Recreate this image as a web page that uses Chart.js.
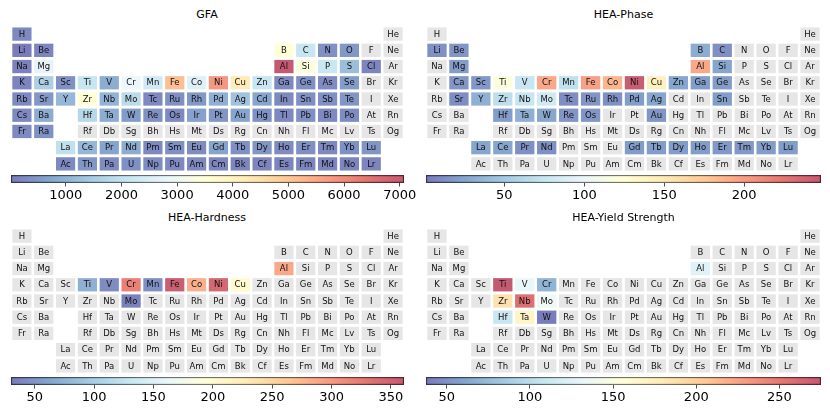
<!DOCTYPE html>
<html>
<head>
<meta charset="utf-8">
<script src="https://cdn.jsdelivr.net/npm/chart.js@4.4.0/dist/chart.umd.min.js"></script>
<style>
  body { margin: 0; background: #fff; width: 830px; height: 415px; overflow: hidden; position: relative; font-family: "DejaVu Sans", sans-serif; }
  canvas { position: absolute; }
  .title { position: absolute; font-size: 11px; line-height: 14px; text-align: center; color: #000; }
</style>
</head>
<body>
<script>
// all 118 elements, in order of atomic number
const symbols = ['H','He','Li','Be','B','C','N','O','F','Ne','Na','Mg','Al','Si','P','S','Cl','Ar',
  'K','Ca','Sc','Ti','V','Cr','Mn','Fe','Co','Ni','Cu','Zn','Ga','Ge','As','Se','Br','Kr',
  'Rb','Sr','Y','Zr','Nb','Mo','Tc','Ru','Rh','Pd','Ag','Cd','In','Sn','Sb','Te','I','Xe',
  'Cs','Ba','La','Ce','Pr','Nd','Pm','Sm','Eu','Gd','Tb','Dy','Ho','Er','Tm','Yb','Lu',
  'Hf','Ta','W','Re','Os','Ir','Pt','Au','Hg','Tl','Pb','Bi','Po','At','Rn',
  'Fr','Ra','Ac','Th','Pa','U','Np','Pu','Am','Cm','Bk','Cf','Es','Fm','Md','No','Lr',
  'Rf','Db','Sg','Bh','Hs','Mt','Ds','Rg','Cn','Nh','Fl','Mc','Lv','Ts','Og'];

// GFA
const gfaEls = ['H','Li','Be','B','C','N','O','Na','Mg','Al','Si','P','S','Cl',
  'K','Ca','Sc','Ti','V','Cr','Mn','Fe','Co','Ni','Cu','Zn','Ga','Ge','As','Se',
  'Rb','Sr','Y','Zr','Nb','Mo','Tc','Ru','Rh','Pd','Ag','Cd','In','Sn','Sb','Te',
  'Cs','Ba','Hf','Ta','W','Re','Os','Ir','Pt','Au','Hg','Tl','Pb','Bi','Po','Fr','Ra',
  'La','Ce','Pr','Nd','Pm','Sm','Eu','Gd','Tb','Dy','Ho','Er','Tm','Yb','Lu',
  'Ac','Th','Pa','U','Np','Pu','Am','Cm','Bk','Cf','Es','Fm','Md','No','Lr'];
const gfaVals = [230,15,160,3550,2130,370,510,90,2700,7077,3400,2150,1215,160,
  160,1570,370,2130,860,2840,2270,5170,2560,5805,4250,2130,230,370,300,580,
  230,510,1075,3550,1000,1850,230,370,510,930,1290,720,230,370,370,440,
  230,860,1780,860,580,370,230,650,440,720,370,230,370,230,300,230,370,
  1990,1075,720,860,230,370,300,720,370,440,300,370,230,370,440,
  230,440,300,370,300,230,230,160,160,160,160,160,160,160,160];
const gfaRange = [15, 7077];
const gfaTicks = [1000, 2000, 3000, 4000, 5000, 6000, 7000];

// HEA-Phase
const phaseEls = ['Li','Be','B','C','Mg','Al','Si','Ca','Sc','Ti','V','Cr','Mn','Fe','Co','Ni','Cu','Zn','Ga','Ge',
  'Sr','Y','Zr','Nb','Mo','Tc','Ru','Rh','Pd','Ag','Sn','Hf','Ta','W','Re','Os','Au',
  'La','Ce','Pr','Nd','Gd','Tb','Dy','Ho','Er','Tm','Yb','Lu'];
const phaseVals = [13,16,31,13,21,194,26,16,18,120,75,194,70,199,186,245,142,26,21,21,
  11,33,68,75,80,11,16,13,21,26,21,21,33,26,16,16,16,
  26,26,13,13,21,21,21,21,18,18,21,21];
const phaseRange = [1, 248];
const phaseTicks = [50, 100, 150, 200];

// HEA-Hardness
const hardEls = ['Al','Ti','V','Cr','Mn','Fe','Co','Ni','Cu','Mo'];
const hardVals = [288,73,43,321,47,355,282,344,202,34];
const hardRange = [30, 361];
const hardTicks = [50, 100, 150, 200, 250, 300, 350];

// HEA-Yield Strength
const yieldEls = ['Al','Ti','V','Cr','Zr','Nb','Mo','Hf','Ta','W'];
const yieldVals = [125,275,132,71,187,258,137,109,168,38];
const yieldRange = [37.5, 275];
const yieldTicks = [50, 100, 150, 200, 250];

// RdYlBu_r, drawn with alpha like the original
const cmapStops = ['#313695','#4575b4','#74add1','#abd9e9','#e0f3f8','#ffffbf','#fee090','#fdae61','#f46d43','#d73027','#a50026'];
const ALPHA = 0.65;
const EMPTY = '#e6e6e6';

function hexRgb(h) {
  return [parseInt(h.slice(1, 3), 16), parseInt(h.slice(3, 5), 16), parseInt(h.slice(5, 7), 16)];
}
function cmap(t) {
  t = Math.max(0, Math.min(1, t));
  const p = t * 10;
  const i = Math.min(9, Math.floor(p));
  const f = p - i;
  const a = hexRgb(cmapStops[i]), b = hexRgb(cmapStops[i + 1]);
  const c = a.map((v, k) => Math.round(v + (b[k] - v) * f));
  return `rgba(${c[0]},${c[1]},${c[2]},${ALPHA})`;
}

// group / row of an element in the usual periodic table layout (La, Ac rows at 8, 9)
function place(z) {
  if (z === 1) return [1, 1];
  if (z === 2) return [18, 1];
  if (z <= 18) {
    const p = z <= 10 ? 2 : 3;
    const i = z - (p === 2 ? 3 : 11);
    return [i < 2 ? i + 1 : i + 11, p];
  }
  if (z <= 54) {
    const p = z <= 36 ? 4 : 5;
    return [z - (p === 4 ? 18 : 36), p];
  }
  const p = z <= 86 ? 6 : 7;
  const i = z - (p === 6 ? 54 : 86);
  if (i <= 2) return [i, p];
  if (i <= 17) return [i, p + 2];
  return [i - 14, p];
}

const symbolLabels = {
  id: 'symbolLabels',
  afterDatasetsDraw(chart) {
    const ctx = chart.ctx;
    const meta = chart.getDatasetMeta(0);
    const ds = chart.data.datasets[0];
    ctx.save();
    ctx.font = '8.5px "DejaVu Sans"';
    ctx.fillStyle = '#111';
    ctx.textAlign = 'center';
    ctx.textBaseline = 'middle';
    meta.data.forEach((bar, i) => {
      const c = bar.getCenterPoint();
      ctx.fillText(ds.data[i].s, c.x, c.y + 0.5);
    });
    ctx.restore();
  }
};

function addCanvas(left, top, w, h) {
  const cv = document.createElement('canvas');
  cv.width = w; cv.height = h;
  cv.style.left = left + 'px'; cv.style.top = top + 'px';
  cv.style.width = w + 'px'; cv.style.height = h + 'px';
  document.body.appendChild(cv);
  return cv;
}

function drawPanel(p) {
  const [vmin, vmax] = p.range;
  const lookup = {};
  p.els.forEach((s, i) => { lookup[s] = p.vals[i]; });

  const t = document.createElement('div');
  t.className = 'title';
  t.style.left = p.x + 'px'; t.style.width = p.w + 'px'; t.style.top = (p.top + 8) + 'px';
  t.textContent = p.title;
  document.body.appendChild(t);

  const cells = symbols.map((s, i) => {
    const [col, row] = place(i + 1);
    const v = lookup[s];
    return { x: col, y: [row - 0.41, row + 0.41], s, v: v === undefined ? null : v };
  });

  const heat = addCanvas(p.x, p.top + 25.5, p.w, 146);
  new Chart(heat, {
    type: 'bar',
    data: {
      datasets: [{
        data: cells,
        backgroundColor: c => c.raw && c.raw.v !== null ? cmap((c.raw.v - vmin) / (vmax - vmin)) : EMPTY,
        borderWidth: 0,
        barPercentage: 0.88,
        categoryPercentage: 1
      }]
    },
    options: {
      responsive: false,
      animation: false,
      layout: { padding: 0 },
      plugins: { legend: { display: false }, tooltip: { enabled: false } },
      scales: {
        x: { type: 'linear', min: 0.5, max: 18.5, offset: false, display: false },
        y: { type: 'linear', min: 0.5, max: 9.5, reverse: true, display: false }
      }
    },
    plugins: [symbolLabels]
  });

  const bar = addCanvas(p.x - 20, p.top + 174.5, p.w + 40, 28);
  new Chart(bar, {
    type: 'bar',
    data: {
      labels: [''],
      datasets: [{
        data: [[vmin, vmax]],
        backgroundColor: c => {
          const area = c.chart.chartArea;
          if (!area) return null;
          const g = c.chart.ctx.createLinearGradient(area.left, 0, area.right, 0);
          cmapStops.forEach((_, k) => g.addColorStop(k / 10, cmap(k / 10)));
          return g;
        },
        borderColor: '#333',
        borderWidth: 0.8,
        borderSkipped: false,
        barPercentage: 1,
        categoryPercentage: 1
      }]
    },
    options: {
      indexAxis: 'y',
      responsive: false,
      animation: false,
      layout: { padding: { left: 20, right: 20, top: 0, bottom: 0 } },
      plugins: { legend: { display: false }, tooltip: { enabled: false } },
      scales: {
        x: {
          type: 'linear', min: vmin, max: vmax,
          afterBuildTicks: sc => { sc.ticks = p.ticks.map(v => ({ value: v })); },
          afterFit: sc => { sc.height = 20; },
          border: { display: false },
          grid: { drawOnChartArea: false, drawTicks: true, tickLength: 3.5, color: '#222', lineWidth: 0.8 },
          ticks: {
            color: '#000', padding: 1.5, maxRotation: 0, autoSkip: false,
            font: { family: 'DejaVu Sans', size: 13 },
            callback: v => String(v)
          }
        },
        y: { display: false }
      }
    }
  });
}

const panels = [
  { title: 'GFA', els: gfaEls, vals: gfaVals, range: gfaRange, ticks: gfaTicks, x: 10.5, w: 393, top: 0 },
  { title: 'HEA-Phase', els: phaseEls, vals: phaseVals, range: phaseRange, ticks: phaseTicks, x: 426, w: 395, top: 0 },
  { title: 'HEA-Hardness', els: hardEls, vals: hardVals, range: hardRange, ticks: hardTicks, x: 10.5, w: 393, top: 202.5 },
  { title: 'HEA-Yield Strength', els: yieldEls, vals: yieldVals, range: yieldRange, ticks: yieldTicks, x: 426, w: 395, top: 202.5 }
];
panels.forEach(drawPanel);
</script>
</body>
</html>
